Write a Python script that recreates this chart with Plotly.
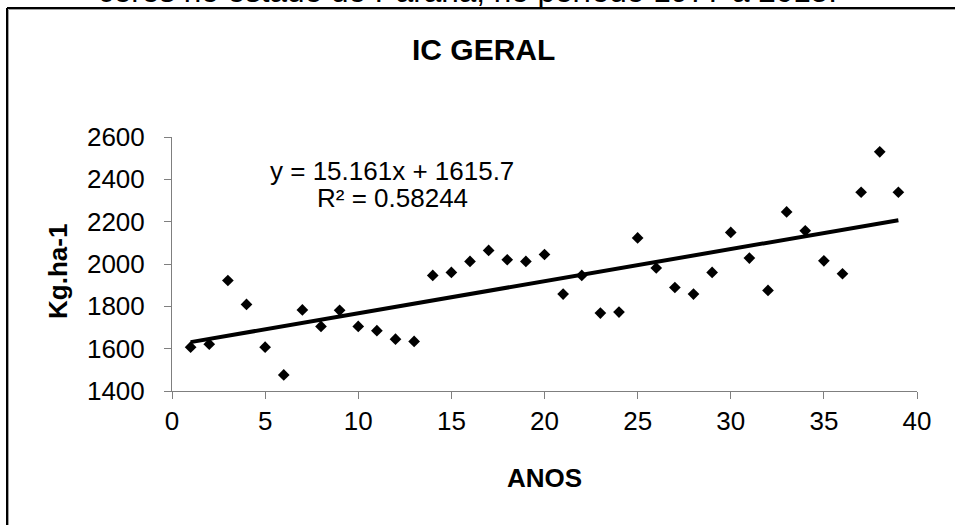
import plotly.graph_objects as go

# Data
anos = list(range(1, 40))
kg_ha = [1607, 1621, 1922, 1809, 1607, 1476, 1783, 1705, 1781, 1705,
         1685, 1645, 1634, 1946, 1960, 2012, 2064, 2020, 2012, 2045,
         1858, 1946, 1768, 1773, 2123, 1981, 1889, 1858, 1960, 2149,
         2028, 1875, 2246, 2157, 2015, 1954, 2339, 2530, 2339]
slope = 15.161
intercept = 1615.7
r2 = 0.58244

x_ticks = [0, 5, 10, 15, 20, 25, 30, 35, 40]
y_ticks = [1400, 1600, 1800, 2000, 2200, 2400, 2600]

W, H = 955, 525
ML, MR, MT, MB = 172, 38, 137, 134
PW = W - ML - MR
PH = H - MT - MB


def px_x(p):
    return (p - ML) / PW


def px_y(p):
    return (H - MB - p) / PH


FONT = "Arial, Liberation Sans, sans-serif"

fig = go.Figure()

trend_x = [anos[0], anos[-1]]
trend_y = [slope * v + intercept for v in trend_x]
fig.add_trace(go.Scatter(x=trend_x, y=trend_y, mode="lines",
                         line=dict(color="black", width=4), showlegend=False,
                         hoverinfo="skip"))
fig.add_trace(go.Scatter(x=anos, y=kg_ha, mode="markers",
                         marker=dict(symbol="diamond", size=9, color="black"),
                         showlegend=False))

axis_common = dict(showgrid=False, zeroline=False, showline=True,
                   linecolor="#7f7f7f", linewidth=1, ticks="outside",
                   ticklen=7, tickcolor="#7f7f7f", tickwidth=1,
                   tickfont=dict(family=FONT, size=26, color="black"))

fig.update_xaxes(range=[0, 40], tickvals=x_ticks, **axis_common)
fig.update_yaxes(range=[1400, 2600], tickvals=y_ticks, ticklabelstandoff=14,
                 **axis_common)

ann = []
ann.append(dict(text="<b>IC GERAL</b>", x=px_x(483), y=px_y(50), xref="paper",
                yref="paper", showarrow=False, xanchor="center", yanchor="middle",
                font=dict(family=FONT, size=30, color="black")))
ann.append(dict(text=f"y = {slope}x + {intercept}", x=px_x(392), y=px_y(171),
                xref="paper", yref="paper", showarrow=False, xanchor="center",
                yanchor="middle", font=dict(family=FONT, size=26, color="black")))
ann.append(dict(text=f"R² = {r2}", x=px_x(392), y=px_y(198),
                xref="paper", yref="paper", showarrow=False, xanchor="center",
                yanchor="middle", font=dict(family=FONT, size=26, color="black")))
ann.append(dict(text="<b>Kg.ha-1</b>", x=px_x(58), y=px_y(272), xref="paper",
                yref="paper", showarrow=False, textangle=-90, xanchor="center",
                yanchor="middle", font=dict(family=FONT, size=26, color="black")))
ann.append(dict(text="<b>ANOS</b>", x=px_x(544), y=px_y(478), xref="paper",
                yref="paper", showarrow=False, xanchor="center", yanchor="middle",
                font=dict(family=FONT, size=26, color="black")))
ann.append(dict(text="ceres no estado do Paraná, no período 1977 a 2015.",
                x=px_x(467), y=px_y(11), xref="paper", yref="paper",
                showarrow=False, xanchor="center", yanchor="bottom",
                font=dict(family=FONT, size=31.5, color="black")))

shapes = [
    dict(type="line", xref="paper", yref="paper", x0=px_x(8.5), x1=px_x(8.5),
         y0=px_y(9.5), y1=px_y(600), line=dict(color="#a0a0a0", width=1)),
    dict(type="line", xref="paper", yref="paper", x0=px_x(8.5), x1=px_x(1100),
         y0=px_y(9.5), y1=px_y(9.5), line=dict(color="#a0a0a0", width=1)),
    dict(type="line", xref="paper", yref="paper", x0=px_x(7), x1=px_x(7),
         y0=px_y(8), y1=px_y(600), line=dict(color="black", width=2)),
    dict(type="line", xref="paper", yref="paper", x0=px_x(7), x1=px_x(1100),
         y0=px_y(8), y1=px_y(8), line=dict(color="black", width=2)),
]

fig.update_layout(width=W, height=H, autosize=False,
                  margin=dict(l=ML, r=MR, t=MT, b=MB, pad=0),
                  paper_bgcolor="white", plot_bgcolor="white",
                  annotations=ann, shapes=shapes,
                  font=dict(family=FONT, color="black"))

fig.write_html("out.html", config={"displayModeBar": False})
